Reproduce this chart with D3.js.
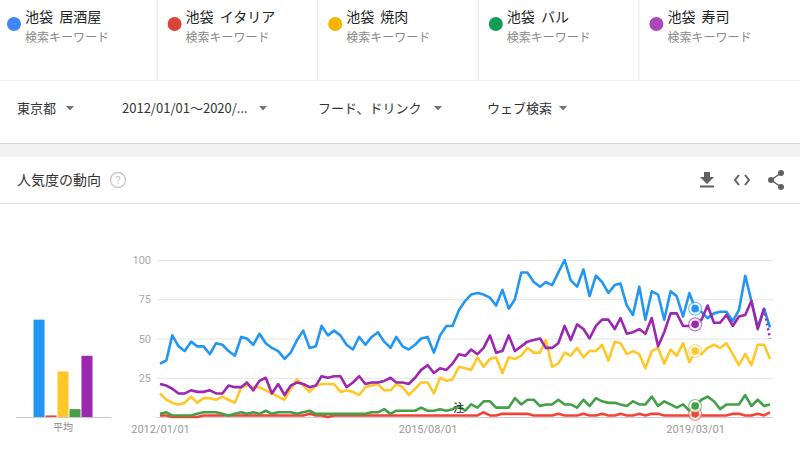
<!DOCTYPE html>
<html><head><meta charset="utf-8">
<script src="https://cdnjs.cloudflare.com/ajax/libs/d3/7.8.5/d3.min.js"></script>
<style>
body{margin:0;background:#fff;}
svg{display:block;font-family:"Noto Sans CJK JP","Roboto",sans-serif;}
</style></head><body><svg id="c" width="800" height="449"></svg>
<script>
// ---------- DATA ----------
const seriesNames = ["池袋 居酒屋", "池袋 イタリア", "池袋 焼肉", "池袋 バル", "池袋 寿司"];
const subLabel = "検索キーワード";
const filterLabels = ["東京都", "2012/01/01～2020/...", "フード、ドリンク", "ウェブ検索"];
const headerTitle = "人気度の動向";
const xTickLabels = ["2012/01/01", "2015/08/01", "2019/03/01"];
const yTickValues = [25, 50, 75, 100];
const averages = [62, 1, 29, 5, 39];

const izakaya = [34,36,52,45,42,48,45,45,40,47,46,42,39,51,50,46,53,47,44,42,37,41,49,55,44,45,58,52,55,52,46,43,51,46,51,54,48,44,51,45,43,46,50,51,41,52,58,58,
  68,74,78,79,78,76,71,81,69,75,92,92,86,83,86,84,92,100,87,83,94,77,90,86,79,84,85,71,65,83,62,80,78,62,80,77,64,79,69,67,63,66,67,67,61,68,90,74,57,69,57];
const italia = [1,1,0,0,0,0,0,1,1,1,1,1,1,1,1,1,1,1,1,1,1,1,1,1,2,1,1,0,1,1,1,1,1,1,1,1,1,1,1,1,1,1,1,1,1,1,1,1,
  1,1,1,1,3,1,1,2,2,2,2,2,1,1,1,1,2,1,1,1,2,1,1,2,1,1,2,1,1,2,1,2,2,1,1,1,1,1,2,1,1,1,1,1,2,2,1,1,2,1,3];
const yakiniku = [15,11,9,8,9,13,9,12,12,11,13,11,9,19,20,19,19,17,15,13,11,18,24,20,16,20,21,21,21,16,17,16,14,19,20,21,17,17,21,19,14,18,22,22,15,25,23,24,
  32,31,30,38,32,37,38,28,38,37,39,44,41,41,49,32,34,41,39,44,38,42,42,46,36,48,47,40,42,40,31,42,44,34,43,39,47,35,42,40,44,46,44,47,40,33,40,33,46,46,37];
const bar = [2,3,1,1,1,1,2,3,3,3,2,1,2,3,2,3,2,4,2,3,3,3,2,3,4,
  2,2,2,2,2,2,2,2,2,3,3,5,2,4,4,4,4,6,4,4,5,4,5,
  7,4,8,6,10,10,6,6,6,12,8,11,11,7,8,8,11,8,8,6,11,7,12,10,9,9,8,7,10,8,8,13,7,10,8,6,8,4,7,11,13,10,5,8,8,8,14,7,11,7,8];
const sushi = [21,20,18,15,15,17,16,16,17,15,15,20,19,19,22,17,23,25,15,21,14,20,22,21,19,20,26,25,26,26,19,22,26,21,22,22,23,25,22,22,21,25,30,33,28,31,30,34,
  40,39,43,40,44,52,41,42,52,42,45,48,49,50,44,44,47,58,49,59,56,50,58,62,62,56,63,53,54,56,53,63,45,54,66,66,58,58,59,62,71,60,60,65,58,64,65,74,56,69,50];

const dotColors = ["#4285f4", "#db4437", "#f4b400", "#0f9d58", "#ab47bc"];
const lineColors = ["#2196f3", "#f44336", "#ffc828", "#43a047", "#9c27b0"];
const dashedLast = [false, false, false, false, true];

const months = d3.timeMonth.range(new Date(2012,0,1), new Date(2020,3,1));
const allSeries = [izakaya, italia, yakiniku, bar, sushi];
const parse = d3.timeParse("%Y/%m/%d");
const fmt = d3.timeFormat("%Y/%m/%d");
const noteDate = new Date(2016,0,1);
const hoverDate = new Date(2019,2,1);

// ---------- DRAW ----------
const svg = d3.select("#c");

// legend cards
const cardW = 160.6;
seriesNames.forEach((n,i)=>{
  const x0 = i*cardW;
  svg.append("circle").attr("cx", x0+14).attr("cy", 24).attr("r", 7).attr("fill", dotColors[i]);
  svg.append("text").attr("x", x0+25).attr("y", 22).attr("font-size", 14).attr("fill", "#222")
    .attr("word-spacing", 3).text(n);
  svg.append("text").attr("x", x0+25).attr("y", 42).attr("font-size", 12).attr("fill", "#8a8a8a").text(subLabel);
  if (i>0) svg.append("line").attr("x1", x0-3.5).attr("x2", x0-3.5).attr("y1", 0).attr("y2", 80).attr("stroke", "#e3e3e3");
});
svg.append("line").attr("x1",0).attr("x2",800).attr("y1",80.5).attr("y2",80.5).attr("stroke","#ececec");

// filter row
const filterX = [17, 122, 318, 487];
const arrowX = [70, 263, 438, 563];
filterLabels.forEach((t,i)=>{
  svg.append("text").attr("x", filterX[i]).attr("y", 113).attr("font-size", 13).attr("fill", "#333").text(t);
  const ax = arrowX[i];
  svg.append("path").attr("d", `M${ax-4},106 L${ax+4},106 L${ax},110.5 Z`).attr("fill", "#757575");
});

// grey band
svg.append("rect").attr("x",0).attr("y",143).attr("width",800).attr("height",14).attr("fill","#f2f2f2");
svg.append("line").attr("x1",0).attr("x2",800).attr("y1",143.5).attr("y2",143.5).attr("stroke","#d6d6d6");

// header
svg.append("text").attr("x", 17).attr("y", 185).attr("font-size", 14).attr("fill", "#333").text(headerTitle);
svg.append("circle").attr("cx",118).attr("cy",180).attr("r",7.5).attr("fill","none").attr("stroke","#c4c4c4").attr("stroke-width",1.3);
svg.append("text").attr("x",118).attr("y",184).attr("text-anchor","middle").attr("font-size",11).attr("fill","#c4c4c4").attr("font-family","Roboto").text("?");
svg.append("line").attr("x1",0).attr("x2",800).attr("y1",203.5).attr("y2",203.5).attr("stroke","#e3e3e3");

// icons
const ic = "#616161";
svg.append("path").attr("d","M704,172 h6 v5 h4 l-7,7 l-7,-7 h4 z").attr("fill", ic);
svg.append("rect").attr("x",700).attr("y",185.5).attr("width",14).attr("height",2).attr("fill",ic);
svg.append("path").attr("d","M739,175 L735,180 L739,185 M745,175 L749,180 L745,185").attr("fill","none").attr("stroke",ic).attr("stroke-width",2);
svg.append("path").attr("d","M781,173 L771,180 L781,187").attr("fill","none").attr("stroke",ic).attr("stroke-width",1.5);
[[781,173],[771,180],[781,187]].forEach(p=>svg.append("circle").attr("cx",p[0]).attr("cy",p[1]).attr("r",3).attr("fill",ic));

// scales
const y = d3.scaleLinear().domain([0,100]).range([417,260]);
const x = d3.scaleTime().domain([months[0], months[months.length-1]]).range([160,770]);

// y axis + grid
const gy = svg.append("g").attr("transform","translate(157,0)")
  .call(d3.axisLeft(y).tickValues(yTickValues).tickSize(-616).tickPadding(6));
gy.select(".domain").remove();
gy.selectAll(".tick line").attr("stroke","#e4e4e4");
gy.selectAll(".tick text").attr("fill","#aaa").attr("font-size",11).attr("font-family","Roboto");
svg.append("line").attr("x1",157).attr("x2",773).attr("y1",417.5).attr("y2",417.5).attr("stroke","#cfcfcf");

// x axis
const gx = svg.append("g").attr("transform","translate(0,418)")
  .call(d3.axisBottom(x).tickValues(xTickLabels.map(parse)).tickFormat(fmt).tickSize(0).tickPadding(7));
gx.select(".domain").remove();
gx.selectAll(".tick text").attr("fill","#9a9a9a").attr("font-size",11).attr("font-family","Roboto");

// lines
const line = d3.line().x((d,i)=>x(months[i])).y(d=>y(d)).curve(d3.curveLinear);
const order = [1,3,2,0,4];
order.forEach(si=>{
  const vals = allSeries[si];
  const n = vals.length;
  const solid = dashedLast[si] ? vals.slice(0, n-1) : vals;
  svg.append("path").datum(solid).attr("d", line).attr("fill","none").attr("stroke", lineColors[si])
    .attr("stroke-width",2.6).attr("stroke-linejoin","round");
  if (dashedLast[si]) {
    const lastLine = d3.line().x(d=>x(months[d[0]])).y(d=>y(d[1]));
    svg.append("path").datum([[n-2, vals[n-2]],[n-1, vals[n-1]]]).attr("d", lastLine).attr("fill","none")
      .attr("stroke", lineColors[si]).attr("stroke-width",2.6).attr("stroke-dasharray","2,3");
  }
});

// note
svg.append("text").attr("x", x(noteDate)).attr("y", 412).attr("text-anchor","middle").attr("font-size",11).attr("fill","#222").text("注");

// hover markers
const hi = months.findIndex(m=>+m===+hoverDate);
order.forEach(si=>{
  const cx = x(months[hi]), cy = y(allSeries[si][hi]);
  svg.append("circle").attr("cx",cx).attr("cy",cy).attr("r",6.5).attr("fill","#fff").attr("fill-opacity",0.7)
    .attr("stroke",lineColors[si]).attr("stroke-opacity",0.6).attr("stroke-width",1.2);
  svg.append("circle").attr("cx",cx).attr("cy",cy).attr("r",3.8).attr("fill",lineColors[si]);
});

// average bars
const xb = d3.scaleBand().domain(seriesNames).range([33.5,92.5]).paddingInner(0.08);
svg.selectAll(".avg").data(averages).join("rect").attr("class","avg")
  .attr("x",(d,i)=>xb(seriesNames[i])).attr("width",xb.bandwidth())
  .attr("y",d=>y(d)).attr("height",d=>Math.max(1.5, y(0)-y(d)))
  .attr("fill",(d,i)=>lineColors[i]);
svg.append("line").attr("x1",16).attr("x2",111).attr("y1",417.5).attr("y2",417.5).attr("stroke","#c8c8c8");
svg.append("text").attr("x",63).attr("y",431).attr("text-anchor","middle").attr("font-size",10).attr("fill","#8a8a8a").text("平均");
</script></body></html>
